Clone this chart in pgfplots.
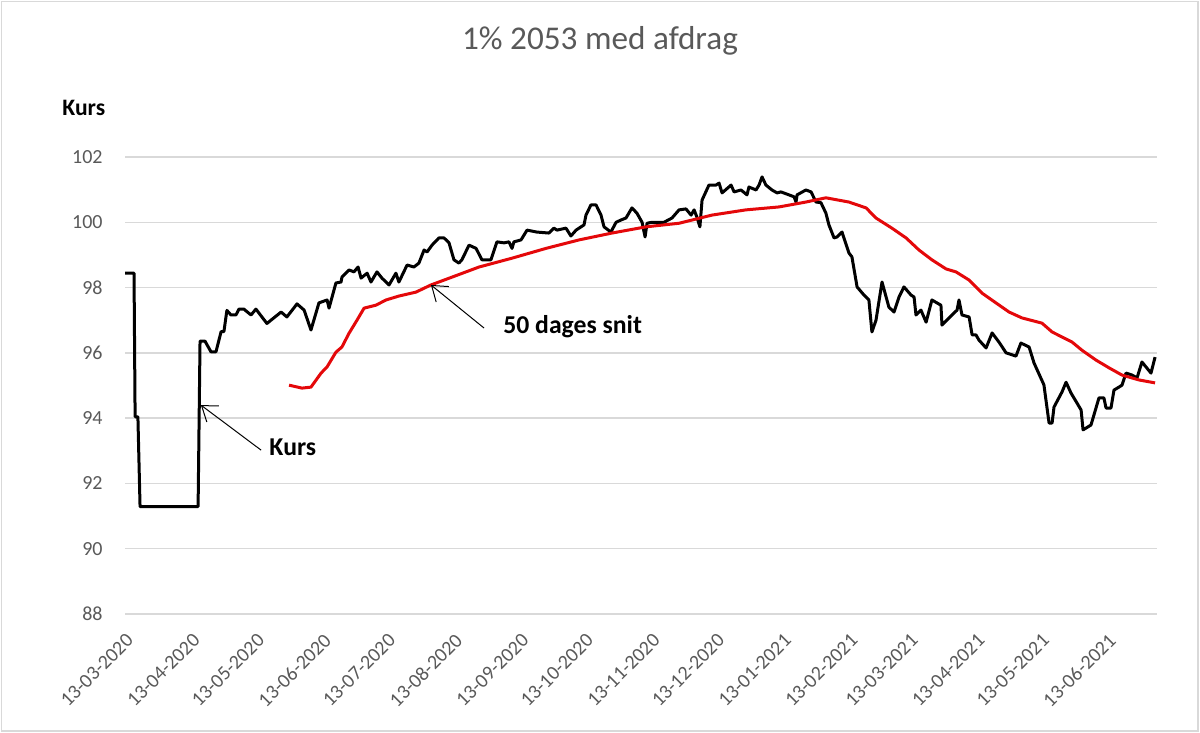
\documentclass[border=0pt]{standalone}
\usepackage{fontspec}
\setmainfont{Carlito}
\usepackage{pgfplots}
\pgfplotsset{compat=1.18}
\usetikzlibrary{arrows.meta}
\definecolor{txtgray}{HTML}{595959}
\definecolor{gridgray}{HTML}{D9D9D9}
\definecolor{myred}{RGB}{228,8,10}
\begin{document}
\begin{tikzpicture}
\path[use as bounding box] (0,0) rectangle (600pt,366.5pt);
\draw[gridgray, line width=0.75pt] (0.75pt,1pt) rectangle (599pt,365.75pt);
\node[anchor=base, font=\fontsize{16.6}{19}\selectfont, text=txtgray, inner sep=0pt] at (300pt,341.5pt) {1\% 2053 med afdrag};
\node[anchor=base west, font=\fontsize{11.8}{14}\selectfont\bfseries, inner sep=0pt] at (31pt,308.5pt) {Kurs};
\begin{axis}[
  at={(62.5pt,59.5pt)}, anchor=south west,
  scale only axis, width=516pt, height=228.5pt,
  xmin=0, xmax=480, ymin=88, ymax=102,
  ytick={88,90,...,102},
  ymajorgrids, grid style={draw=gridgray, line width=0.75pt},
  axis line style={draw=none},
  major tick length=0pt,
  /pgf/number format/assume math mode=true,
  xtick={0,31,61,92,122,153,184,214,245,275,306,337,365,396,426,457},
  xticklabels={13-03-2020,13-04-2020,13-05-2020,13-06-2020,13-07-2020,13-08-2020,13-09-2020,13-10-2020,13-11-2020,13-12-2020,13-01-2021,13-02-2021,13-03-2021,13-04-2021,13-05-2021,13-06-2021},
  yticklabel shift=11pt,
  yticklabel style={font=\fontsize{10}{12}\selectfont, text=txtgray, inner sep=0pt, anchor=east},
  xticklabel style={font=\fontsize{10}{12}\selectfont, text=txtgray, inner sep=0pt, xshift=2.5pt, yshift=-11.5pt, rotate=45, anchor=east},
  clip=false,
]
\addplot[black, line width=1.5pt, line join=round] coordinates {
(0,98.44) (4.2,98.44) (4.7,94.04) (6.0,94.04) (7.0,91.29) (34.0,91.29) (34.9,96.36) (37.2,96.36)
(40.0,96.03) (42.3,96.03) (44.7,96.65) (46.0,96.65) (47.4,97.30) (49.3,97.16) (51.6,97.16) (53.0,97.34)
(55.3,97.34) (58.6,97.16) (60.9,97.34) (66.0,96.90) (72.6,97.25) (75.3,97.10) (80.0,97.50) (83.3,97.31)
(86.5,96.70) (90.2,97.53) (94.0,97.62) (94.9,97.37) (98.1,98.14) (100.5,98.17) (100.9,98.32) (104.2,98.54)
(106.5,98.48) (108.4,98.63) (109.8,98.29) (112.6,98.44) (114.4,98.17) (117.2,98.48) (119.5,98.29) (122.8,98.08)
(126.0,98.44) (127.4,98.17) (131.2,98.69) (134.4,98.63) (136.7,98.75) (139.1,99.15) (140.5,99.09) (142.8,99.30)
(146.0,99.52) (148.4,99.52) (150.7,99.37) (153.0,98.85) (155.3,98.75) (156.7,98.85) (160.0,99.30) (163.3,99.20)
(166.0,98.85) (170.2,98.85) (173.0,99.40) (176.3,99.37) (178.6,99.40) (180.0,99.20) (180.9,99.40) (184.2,99.46)
(187.0,99.76) (191.6,99.70) (197.2,99.67) (199.5,99.82) (200.9,99.76) (205.1,99.82) (207.4,99.58) (209.8,99.76)
(213.5,99.92) (214.4,100.22) (216.7,100.53) (219.1,100.53) (221.4,100.22) (222.8,99.86) (226.0,99.70) (228.4,100.00)
(230.7,100.07) (233.0,100.13) (235.8,100.44) (238.1,100.28) (240.5,100.00) (241.9,99.55) (242.8,99.97) (245.1,100.00)
(250.7,100.00) (254.4,100.13) (257.7,100.38) (260.9,100.41) (263.3,100.22) (264.7,100.38) (266.0,100.16) (267.4,99.86)
(268.4,100.68) (271.6,101.14) (274.9,101.14) (276.3,101.20) (277.7,100.90) (281.9,101.14) (283.3,100.93) (286.5,100.99)
(289.3,100.84) (290.2,101.08) (293.5,100.99) (294.9,101.14) (296.3,101.39) (298.1,101.14) (300.9,100.99) (303.3,100.90)
(305.1,100.93) (308.8,100.84) (311.2,100.78) (312.1,100.62) (312.6,100.84) (316.7,100.99) (319.1,100.93) (321.4,100.62)
(323.7,100.60) (326.0,100.28) (327.4,99.92) (329.8,99.52) (331.2,99.55) (333.5,99.70) (336.7,99.06) (338.1,98.94)
(340.5,98.02) (343.7,97.77) (346.0,97.62) (347.4,96.64) (349.3,97.00) (352.1,98.17) (355.3,97.40) (357.7,97.25)
(360.0,97.71) (362.3,98.02) (365.6,97.77) (367.0,97.71) (367.9,97.16) (370.2,97.31) (372.6,96.94) (375.3,97.62)
(379.5,97.46) (380.0,96.85) (385.6,97.22) (387.0,97.31) (387.9,97.62) (389.3,97.16) (392.6,97.10) (394.0,96.55)
(395.8,96.55) (397.2,96.39) (400.5,96.15) (403.3,96.61) (406.5,96.33) (409.8,96.00) (414.4,95.90) (416.7,96.30)
(420.5,96.18) (422.8,95.69) (427.4,95.02) (429.8,93.85) (431.2,93.85) (432.1,94.34) (435.8,94.80) (437.7,95.10)
(440.0,94.77) (444.7,94.25) (445.6,93.64) (449.3,93.79) (453.0,94.62) (455.3,94.62) (456.3,94.31) (458.6,94.31)
(460.0,94.86) (462.3,94.95) (463.7,95.01) (465.6,95.38) (468.4,95.32) (470.7,95.23) (473.0,95.72) (477.2,95.38)
(479.1,95.87)
};
\addplot[myred, line width=1.5pt, line join=round] coordinates {
(76.3,95.01) (82.3,94.92) (86.5,94.95) (91.2,95.38) (94.0,95.57) (98.1,96.02) (100.9,96.18) (104.2,96.60)
(107.9,97.00) (111.2,97.37) (116.7,97.46) (121.4,97.62) (127.4,97.74) (135.3,97.86) (142.3,98.08) (152.1,98.32)
(164.7,98.63) (180.0,98.90) (195.8,99.20) (211.2,99.46) (226.5,99.67) (242.3,99.86) (257.7,99.97) (273.0,100.22)
(288.8,100.38) (304.2,100.47) (316.7,100.62) (326.0,100.75) (336.7,100.62) (344.7,100.44) (349.3,100.13) (356.7,99.82)
(363.3,99.52) (369.3,99.15) (375.3,98.85) (381.9,98.57) (386.5,98.48) (392.6,98.23) (398.6,97.83) (405.1,97.53)
(411.2,97.25) (417.2,97.07) (426.5,96.91) (431.2,96.64) (440.5,96.33) (445.1,96.08) (451.6,95.78) (457.7,95.54)
(463.7,95.32) (471.6,95.17) (479.1,95.08)
};
\draw[black, line width=0.5pt, -{Straight Barb[length=7pt,width=10pt]}] (axis cs:63.3,93.02) -- (axis cs:35.3,94.4);
\node[anchor=base west, font=\fontsize{12.85}{15}\selectfont\bfseries, inner sep=0pt] at (axis cs:67,92.87) {Kurs};
\draw[black, line width=0.5pt, -{Straight Barb[length=7pt,width=10pt]}] (axis cs:167,96.76) -- (axis cs:142.3,98.08);
\node[anchor=base west, font=\fontsize{12.85}{15}\selectfont\bfseries, inner sep=0pt] at (axis cs:175.8,96.58) {50 dages snit};
\end{axis}
\end{tikzpicture}
\end{document}
